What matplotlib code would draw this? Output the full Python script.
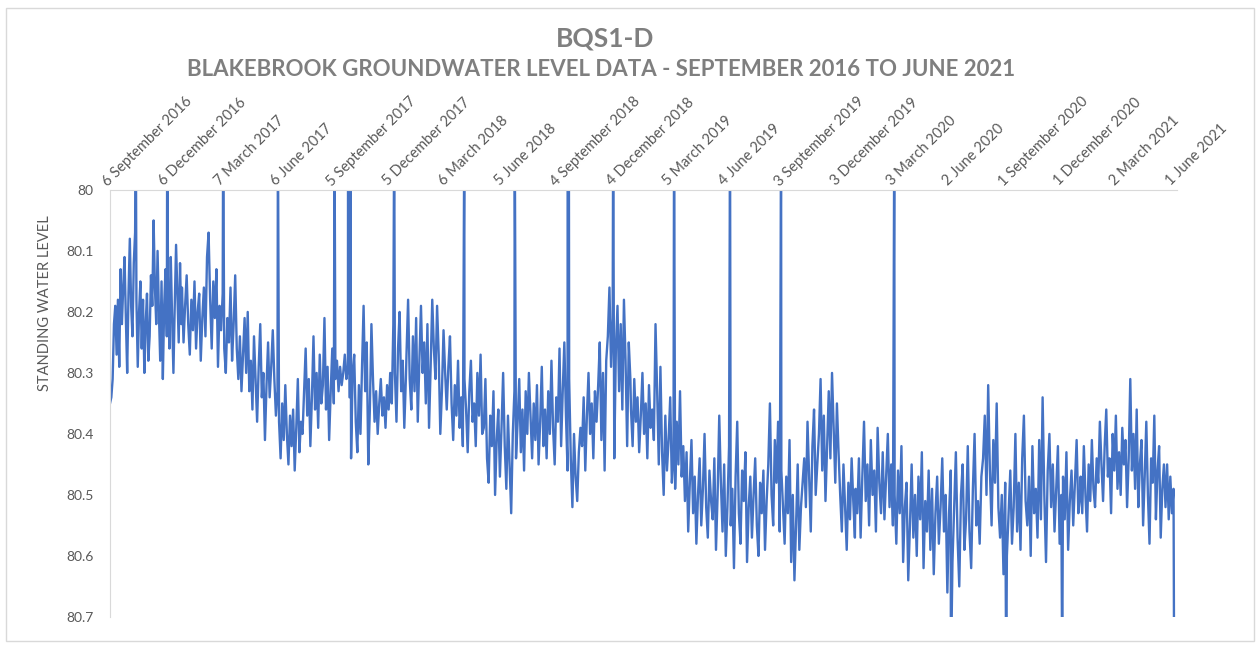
import numpy as np
import pandas as pd
import matplotlib
matplotlib.use('Agg')
import matplotlib.pyplot as plt
from matplotlib.patches import Rectangle

# Standing water level readings (m), one list per calendar year
lvl_2016 = [80.35, 80.34, 80.31, 80.22, 80.19, 80.27, 80.18, 80.29, 80.13, 80.22,
            80.16, 80.11, 80.21, 80.30, 80.17, 80.08, 80.19, 80.24, 80.12, 80.07,
            80.18, 80.29, 80.20, 80.15, 80.26, 80.18, 80.30, 80.22, 80.17, 80.28,
            80.24, 80.14, 80.19, 80.05, 80.16, 80.22, 80.10, 80.20, 80.28, 80.15,
            80.31, 80.19, 80.13, 80.24, 80.18, 80.26, 80.11, 80.21, 80.30, 80.19,
            80.09, 80.17, 80.25, 80.12, 80.22]
lvl_2017 = [80.16, 80.25, 80.19, 80.14, 80.22, 80.27, 80.18, 80.23, 80.15, 80.26,
            80.20, 80.17, 80.28, 80.21, 80.16, 80.24, 80.11, 80.07, 80.18, 80.26,
            80.15, 80.21, 80.13, 80.29, 80.19, 80.23, 80.17, 80.26, 80.30, 80.21,
            80.25, 80.16, 80.28, 80.22, 80.14, 80.26, 80.31, 80.24, 80.33, 80.27,
            80.21, 80.30, 80.20, 80.33, 80.28, 80.36, 80.24, 80.31, 80.38, 80.29,
            80.22, 80.34, 80.30, 80.41, 80.32, 80.25, 80.34, 80.29, 80.23, 80.31,
            80.37, 80.33, 80.38, 80.44, 80.35, 80.41, 80.32, 80.40, 80.45, 80.37,
            80.42, 80.36, 80.46, 80.39, 80.31, 80.43, 80.38, 80.40, 80.33, 80.26,
            80.37, 80.31, 80.42, 80.34, 80.24, 80.36, 80.30, 80.39, 80.27, 80.35,
            80.32, 80.21, 80.36, 80.29, 80.41, 80.33, 80.26, 80.35, 80.31, 80.28,
            80.33, 80.29, 80.32, 80.30, 80.27, 80.31, 80.29, 80.34, 80.44, 80.30,
            80.27, 80.38, 80.43, 80.32, 80.40, 80.29, 80.19, 80.33, 80.25, 80.45,
            80.36, 80.22, 80.31, 80.38, 80.33, 80.40, 80.35, 80.31, 80.37, 80.34,
            80.39, 80.32, 80.36, 80.30, 80.35, 80.22, 80.30, 80.38, 80.26, 80.20,
            80.33, 80.28, 80.39, 80.31]
lvl_2018 = [80.27, 80.18, 80.31, 80.36, 80.24, 80.33, 80.21, 80.38, 80.28, 80.19,
            80.30, 80.25, 80.35, 80.22, 80.39, 80.29, 80.18, 80.26, 80.31, 80.19,
            80.27, 80.40, 80.33, 80.23, 80.30, 80.36, 80.29, 80.24, 80.35, 80.41,
            80.32, 80.37, 80.28, 80.39, 80.34, 80.42, 80.31, 80.36, 80.43, 80.33,
            80.28, 80.38, 80.35, 80.42, 80.30, 80.37, 80.27, 80.40, 80.39, 80.31,
            80.44, 80.48, 80.37, 80.42, 80.33, 80.50, 80.41, 80.36, 80.47, 80.39,
            80.30, 80.42, 80.49, 80.37, 80.45, 80.53, 80.40, 80.33, 80.44, 80.38,
            80.31, 80.43, 80.36, 80.46, 80.33, 80.40, 80.30, 80.37, 80.44, 80.35,
            80.41, 80.32, 80.45, 80.38, 80.29, 80.42, 80.36, 80.44, 80.33, 80.40,
            80.28, 80.39, 80.45, 80.34, 80.38, 80.26, 80.42, 80.33, 80.25, 80.37,
            80.46, 80.31, 80.44, 80.52, 80.40, 80.47, 80.51, 80.43, 80.39, 80.42,
            80.34, 80.46, 80.37, 80.30, 80.40, 80.35, 80.44, 80.33, 80.38, 80.32,
            80.25, 80.41, 80.30, 80.46, 80.28, 80.24, 80.16, 80.29, 80.21, 80.44,
            80.26, 80.19, 80.33, 80.22, 80.36, 80.18, 80.28, 80.42, 80.25, 80.31]
lvl_2019 = [80.36, 80.42, 80.31, 80.38, 80.34, 80.43, 80.37, 80.30, 80.40, 80.35,
            80.44, 80.32, 80.39, 80.36, 80.41, 80.22, 80.33, 80.45, 80.29, 80.43,
            80.50, 80.37, 80.46, 80.41, 80.34, 80.48, 80.44, 80.49, 80.38, 80.45,
            80.33, 80.47, 80.42, 80.51, 80.43, 80.56, 80.48, 80.41, 80.53, 80.47,
            80.58, 80.50, 80.44, 80.55, 80.49, 80.40, 80.52, 80.57, 80.46, 80.51,
            80.54, 80.44, 80.59, 80.50, 80.37, 80.48, 80.56, 80.45, 80.60, 80.52,
            80.42, 80.55, 80.49, 80.62, 80.47, 80.38, 80.53, 80.58, 80.46, 80.51,
            80.43, 80.61, 80.52, 80.47, 80.57, 80.50, 80.44, 80.55, 80.60, 80.48,
            80.53, 80.46, 80.59, 80.51, 80.45, 80.35, 80.50, 80.55, 80.41, 80.48,
            80.38, 80.56, 80.46, 80.52, 80.58, 80.47, 80.53, 80.41, 80.61, 80.50,
            80.64, 80.55, 80.45, 80.59, 80.52, 80.48, 80.44, 80.52, 80.38, 80.47,
            80.56, 80.42, 80.36, 80.50, 80.45, 80.40, 80.31, 80.46, 80.37, 80.51,
            80.42, 80.33, 80.44, 80.30, 80.39, 80.48, 80.35, 80.43, 80.50, 80.56,
            80.45, 80.52, 80.59, 80.48, 80.54, 80.44, 80.51, 80.57]
lvl_2020 = [80.49, 80.53, 80.44, 80.57, 80.47, 80.38, 80.51, 80.45, 80.55, 80.41,
            80.50, 80.46, 80.56, 80.39, 80.48, 80.53, 80.43, 80.54, 80.47, 80.40,
            80.52, 80.45, 80.55, 80.50, 80.58, 80.46, 80.53, 80.42, 80.61, 80.52,
            80.48, 80.64, 80.55, 80.45, 80.57, 80.50, 80.60, 80.47, 80.54, 80.43,
            80.62, 80.51, 80.56, 80.46, 80.59, 80.49, 80.63, 80.53, 80.47, 80.58,
            80.52, 80.44, 80.56, 80.50, 80.66, 80.53, 80.46, 80.61, 80.52, 80.43,
            80.57, 80.65, 80.50, 80.45, 80.59, 80.54, 80.42, 80.56, 80.62, 80.49,
            80.40, 80.55, 80.51, 80.58, 80.47, 80.44, 80.37, 80.50, 80.32, 80.46,
            80.55, 80.41, 80.48, 80.35, 80.52, 80.57, 80.50, 80.63, 80.48, 80.60,
            80.53, 80.46, 80.58, 80.52, 80.40, 80.56, 80.48, 80.59, 80.44, 80.37,
            80.51, 80.55, 80.47, 80.60, 80.42, 80.53, 80.49, 80.57, 80.41, 80.54,
            80.34, 80.50, 80.61, 80.46, 80.40, 80.52, 80.45, 80.56, 80.49, 80.42,
            80.58, 80.50, 80.47, 80.54, 80.43, 80.59, 80.51, 80.46, 80.55, 80.48,
            80.41, 80.53, 80.50]
lvl_2021 = [80.47, 80.53, 80.42, 80.50, 80.56, 80.45, 80.51, 80.41, 80.49, 80.52,
            80.44, 80.48, 80.38, 80.45, 80.51, 80.42, 80.36, 80.47, 80.44, 80.53,
            80.40, 80.46, 80.37, 80.49, 80.43, 80.50, 80.39, 80.45, 80.41, 80.52,
            80.44, 80.31, 80.46, 80.40, 80.49, 80.36, 80.52, 80.45, 80.41, 80.55,
            80.47, 80.38, 80.50, 80.58, 80.44, 80.48, 80.37, 80.54, 80.46, 80.42,
            80.57, 80.49, 80.45, 80.52, 80.45, 80.54, 80.47, 80.53, 80.49]

# logger download days: readings far outside the range shown
spike_dates = ['2016-10-18', '2016-12-08', '2017-03-09', '2017-06-06', '2017-09-06',
               '2017-09-28', '2017-10-02', '2017-12-12', '2018-04-05', '2018-06-26',
               '2018-09-20', '2018-09-22', '2018-12-03', '2019-03-12', '2019-06-11',
               '2019-09-02', '2020-03-04', '2020-06-04', '2020-09-02', '2020-12-02',
               '2021-06-02']
spike_levels = [79.9] * 17 + [80.8] * 4

tick_start = '2016-09-06'
n_ticks = 20

title = 'BQS1-D'
subtitle = 'BLAKEBROOK GROUNDWATER LEVEL DATA - SEPTEMBER 2016 TO JUNE 2021'
ylabel = 'STANDING WATER LEVEL'

segments = [('2016-09-06', '2016-12-31', lvl_2016),
            ('2017-01-01', '2017-12-31', lvl_2017),
            ('2018-01-01', '2018-12-31', lvl_2018),
            ('2019-01-01', '2019-12-31', lvl_2019),
            ('2020-01-01', '2020-12-31', lvl_2020),
            ('2021-01-01', '2021-06-01', lvl_2021)]

frames = []
for start, end, vals in segments:
    frames.append(pd.DataFrame({'date': pd.date_range(start, end, periods=len(vals)),
                                'level': vals}))
frames.append(pd.DataFrame({'date': pd.to_datetime(spike_dates), 'level': spike_levels}))
df = pd.concat(frames).sort_values('date')

plt.rcParams['font.family'] = ['Lato', 'DejaVu Sans']
grey = '#7f7f7f'
text_grey = '#595959'

fig = plt.figure(figsize=(12.6, 6.46), dpi=100)
ax = fig.add_axes([0.0873, 0.045, 0.847, 0.661])

ax.plot(df['date'], df['level'], color='#4472C4', lw=1.7)

ax.set_ylim(80.7, 80.0)
yt = np.round(np.arange(80.0, 80.71, 0.1), 1)
ax.set_yticks(yt)
ax.set_yticklabels([f'{v:g}' for v in yt], color=text_grey, fontsize=10)

ax.set_xlim(pd.Timestamp('2016-09-06'), pd.Timestamp('2021-06-07'))
ticks = pd.date_range(tick_start, periods=n_ticks, freq='91D')
ax.xaxis.tick_top()
ax.set_xticks(ticks)
ax.set_xticklabels([f"{d.day} {d.strftime('%B %Y')}" for d in ticks],
                   color=text_grey, fontsize=10.5)
plt.setp(ax.get_xticklabels(), rotation=45, ha='left', va='bottom',
         rotation_mode='anchor')
ax.tick_params(axis='x', length=0, pad=1)
ax.tick_params(axis='y', length=0, pad=12)

for side in ['bottom', 'right']:
    ax.spines[side].set_visible(False)
for side in ['left', 'top']:
    ax.spines[side].set_color('#d9d9d9')

fig.text(0.036, 0.531, ylabel, rotation=90, color=text_grey,
         fontsize=10.5, ha='center', va='center')
fig.text(0.48, 0.941, title, color=grey, fontsize=19, fontweight='bold',
         ha='center', va='center')
fig.text(0.477, 0.892, subtitle, color=grey, fontsize=16, fontweight='bold',
         ha='center', va='center')

fig.patches.append(Rectangle((0.005, 0.008), 0.99, 0.98, transform=fig.transFigure,
                             fill=False, edgecolor='#d9d9d9', lw=1))

fig.savefig('out.png', dpi=100)
